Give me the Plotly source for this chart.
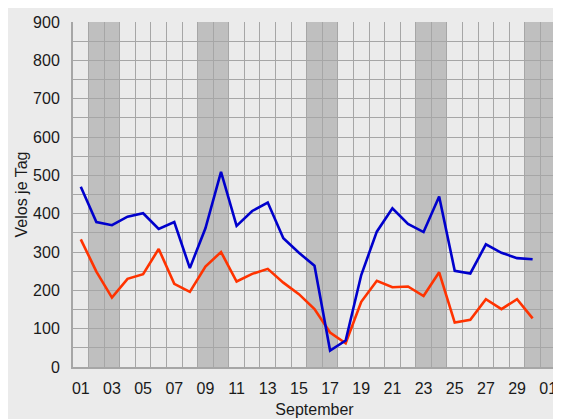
import pandas as pd
import plotly.graph_objects as go

dates = pd.date_range("2023-09-01", "2023-09-30", freq="D")
blue_values = [470, 378, 370, 392, 401, 360, 378, 258, 362, 509,
               368, 407, 429, 336, 298, 264, 43, 69, 240, 353,
               414, 373, 352, 445, 251, 244, 320, 298, 284, 281]
red_values = [333, 249, 181, 230, 242, 308, 217, 196, 262, 300,
              223, 243, 256, 220, 190, 151, 90, 62, 170, 225,
              208, 210, 185, 247, 116, 123, 177, 151, 177, 127]
all_days = pd.date_range("2023-09-01", "2023-10-01", freq="D")
weekend_days = [d for d in all_days if d.dayofweek >= 5]

BG = "#EBEBEB"
GRID = "#A6A6A6"
FONT = "Liberation Sans, Arial, sans-serif"

x = dates + pd.Timedelta(hours=12)

fig = go.Figure()
fig.add_trace(go.Scatter(x=x, y=red_values, mode="lines",
                         line=dict(color="#FF3300", width=2.6), showlegend=False))
fig.add_trace(go.Scatter(x=x, y=blue_values, mode="lines",
                         line=dict(color="#0000CC", width=2.6), showlegend=False))

shapes = []
for d in weekend_days:
    shapes.append(dict(type="rect", xref="x", yref="paper",
                       x0=d, x1=d + pd.Timedelta(days=1), y0=0, y1=1,
                       fillcolor="#BFBFBF", line_width=0, layer="between"))
fig.update_layout(shapes=shapes)

fig.update_layout(
    width=553, height=411,
    margin=dict(l=65, r=5, t=14, b=52),
    paper_bgcolor=BG, plot_bgcolor=BG,
    font=dict(family=FONT, size=16, color="#1a1a1a"),
    xaxis=dict(
        type="date", automargin=False,
        range=[pd.Timestamp("2023-09-01 00:00"), pd.Timestamp("2023-10-02 00:00")],
        tick0=pd.Timestamp("2023-09-01 12:00"), dtick=2 * 86400000,
        tickformat="%d", showgrid=False, zeroline=False,
        showline=True, linecolor=GRID, linewidth=2,
        ticks="", ticklabelstandoff=6,
        minor=dict(tick0=pd.Timestamp("2023-09-01"), dtick=86400000,
                   showgrid=True, gridcolor=GRID, gridwidth=1, ticks=""),
        title=dict(text="September", standoff=8, font=dict(size=16)),
        fixedrange=True,
    ),
    yaxis=dict(
        range=[0, 900], dtick=100, showgrid=True, gridcolor=GRID, gridwidth=1,
        zeroline=False, showline=True, linecolor=GRID, linewidth=2, mirror=True,
        ticks="", ticklabelstandoff=8, automargin=False,
        minor=dict(dtick=50, showgrid=True, gridcolor=GRID, gridwidth=1, ticks=""),
        title=dict(text="Velos je Tag", standoff=1, font=dict(size=16)),
        fixedrange=True,
    ),
)

fig.write_html("out.html")
